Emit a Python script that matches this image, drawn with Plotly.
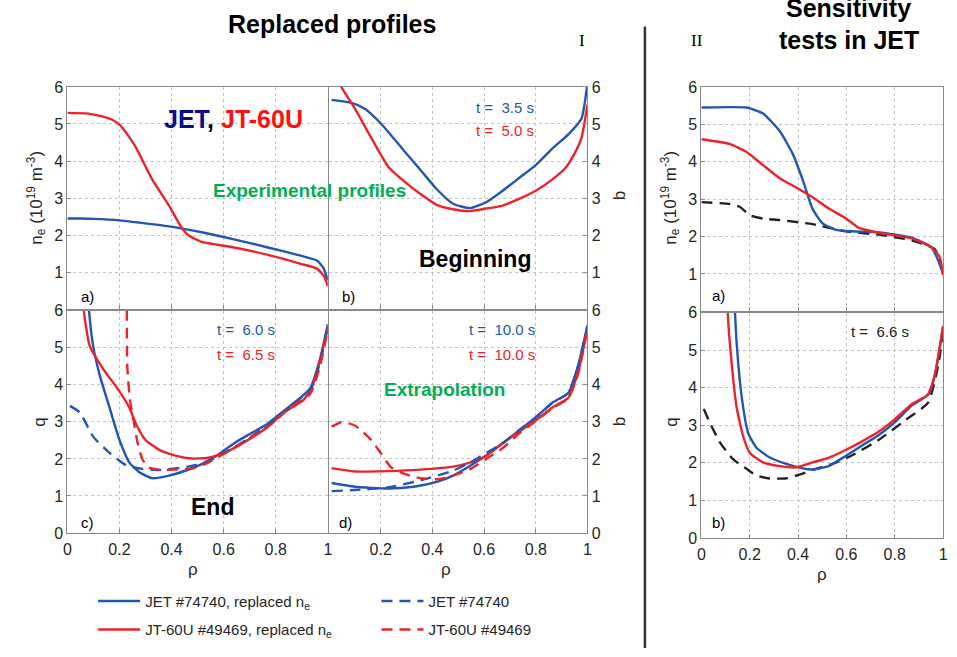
import plotly.graph_objects as go

# ---------------- data ----------------
# Panel a) density profiles (experimental)
a_jet_rho = [0, 0.05, 0.1, 0.2, 0.263, 0.39, 0.516, 0.64, 0.77, 0.895, 0.958, 0.983, 1.0]
a_jet_ne = [2.45, 2.45, 2.44, 2.40, 2.35, 2.24, 2.08, 1.89, 1.67, 1.45, 1.32, 1.12, 0.78]
a_jt_rho = [0, 0.08, 0.137, 0.17, 0.2, 0.23, 0.263, 0.326, 0.39, 0.44, 0.465, 0.516, 0.64, 0.77, 0.895, 0.958, 0.985, 1.0]
a_jt_ne = [5.30, 5.28, 5.20, 5.12, 4.98, 4.72, 4.37, 3.50, 2.80, 2.19, 2.00, 1.82, 1.67, 1.47, 1.23, 1.10, 0.90, 0.63]

# Panel b) q profiles, beginning
b_jet_rho = [0.01, 0.087, 0.137, 0.2, 0.29, 0.354, 0.417, 0.48, 0.545, 0.608, 0.672, 0.735, 0.8, 0.863, 0.926, 0.977, 1.0]
b_jet_q = [5.65, 5.57, 5.42, 5.02, 4.28, 3.76, 3.24, 2.85, 2.73, 2.89, 3.20, 3.54, 3.89, 4.33, 4.72, 5.15, 6.10]
b_jt_rho = [0.03, 0.048, 0.1, 0.163, 0.229, 0.29, 0.354, 0.417, 0.48, 0.545, 0.608, 0.672, 0.735, 0.8, 0.863, 0.913, 0.95, 0.977, 1.0]
b_jt_q = [6.40, 6.00, 5.42, 4.63, 3.85, 3.46, 3.11, 2.82, 2.70, 2.65, 2.72, 2.80, 2.98, 3.20, 3.50, 3.80, 4.20, 4.63, 5.52]

# Panel c) q profiles, end
c_jet_rho = [0.075, 0.083, 0.099, 0.124, 0.162, 0.2, 0.238, 0.276, 0.326, 0.39, 0.453, 0.516, 0.58, 0.642, 0.705, 0.769, 0.832, 0.895, 0.932, 0.97, 1.0]
c_jet_q = [7.0, 6.0, 5.04, 4.26, 3.38, 2.51, 1.90, 1.64, 1.48, 1.55, 1.68, 1.86, 2.12, 2.43, 2.69, 2.95, 3.30, 3.65, 3.90, 4.69, 5.63]
c_jt_rho = [0.055, 0.063, 0.086, 0.137, 0.2, 0.238, 0.263, 0.3, 0.351, 0.415, 0.478, 0.541, 0.617, 0.705, 0.769, 0.832, 0.908, 0.945, 1.0]
c_jt_q = [7.0, 6.0, 5.04, 4.43, 3.82, 3.38, 2.95, 2.51, 2.25, 2.09, 2.01, 2.03, 2.21, 2.56, 2.86, 3.25, 3.60, 4.04, 5.52]
c_jet_exp_rho = [0.01, 0.048, 0.099, 0.162, 0.225, 0.288, 0.351, 0.415, 0.478, 0.541, 0.617, 0.705, 0.794, 0.857, 0.932, 0.97, 1.0]
c_jet_exp_q = [3.43, 3.25, 2.60, 2.16, 1.83, 1.73, 1.70, 1.74, 1.81, 1.94, 2.21, 2.60, 3.04, 3.43, 3.86, 4.60, 5.60]
c_jt_exp_rho = [0.228, 0.230, 0.24, 0.255, 0.27, 0.288, 0.313, 0.351, 0.415, 0.478, 0.541, 0.617, 0.705, 0.794, 0.857, 0.932, 0.97, 1.0]
c_jt_exp_q = [7.0, 4.5, 3.6, 3.0, 2.42, 1.99, 1.77, 1.71, 1.71, 1.74, 1.90, 2.20, 2.58, 3.00, 3.40, 3.75, 4.50, 5.50]

# Panel d) q profiles, extrapolation
d_jet_rho = [0.01, 0.1, 0.227, 0.328, 0.417, 0.48, 0.545, 0.608, 0.672, 0.735, 0.8, 0.863, 0.926, 0.964, 1.0]
d_jet_q = [1.35, 1.25, 1.20, 1.25, 1.38, 1.55, 1.81, 2.09, 2.42, 2.77, 3.12, 3.51, 3.78, 4.52, 5.60]
d_jt_rho = [0.01, 0.1, 0.227, 0.354, 0.48, 0.545, 0.608, 0.672, 0.735, 0.8, 0.863, 0.926, 0.964, 1.0]
d_jt_q = [1.75, 1.66, 1.67, 1.71, 1.79, 1.90, 2.08, 2.43, 2.73, 3.04, 3.38, 3.65, 4.34, 5.52]
d_jet_exp_rho = [0.01, 0.1, 0.227, 0.354, 0.48, 0.545, 0.608, 0.672, 0.735, 0.8, 0.863, 0.926, 0.964, 1.0]
d_jet_exp_q = [1.13, 1.16, 1.23, 1.42, 1.68, 1.90, 2.16, 2.42, 2.77, 3.12, 3.50, 3.78, 4.50, 5.58]
d_jt_exp_rho = [0.01, 0.048, 0.1, 0.163, 0.2, 0.24, 0.29, 0.354, 0.417, 0.48, 0.545, 0.608, 0.672, 0.735, 0.8, 0.863, 0.926, 0.964, 1.0]
d_jt_exp_q = [2.87, 2.99, 2.90, 2.51, 2.16, 1.77, 1.60, 1.48, 1.45, 1.55, 1.72, 2.00, 2.29, 2.68, 3.02, 3.36, 3.63, 4.30, 5.50]

# Part II a) sensitivity tests, density
s_a_blue_rho = [0, 0.119, 0.187, 0.255, 0.324, 0.378, 0.419, 0.46, 0.5, 0.556, 0.624, 0.734, 0.87, 0.952, 0.98, 1.0]
s_a_blue_ne = [5.45, 5.46, 5.45, 5.29, 4.82, 4.21, 3.52, 2.74, 2.36, 2.18, 2.14, 2.11, 1.97, 1.71, 1.36, 1.00]
s_a_red_rho = [0, 0.119, 0.187, 0.255, 0.324, 0.392, 0.46, 0.529, 0.597, 0.652, 0.734, 0.87, 0.952, 0.986, 1.0]
s_a_red_ne = [4.60, 4.47, 4.26, 3.91, 3.56, 3.31, 3.05, 2.74, 2.49, 2.23, 2.10, 1.95, 1.71, 1.45, 0.97]
s_a_exp_rho = [0, 0.119, 0.16, 0.2, 0.255, 0.324, 0.46, 0.597, 0.734, 0.87, 0.966, 1.0]
s_a_exp_ne = [2.92, 2.87, 2.79, 2.57, 2.48, 2.44, 2.33, 2.14, 2.05, 1.90, 1.66, 1.00]

# Part II b) sensitivity tests, q
s_b_blue_rho = [0.137, 0.139, 0.153, 0.173, 0.194, 0.228, 0.283, 0.351, 0.419, 0.46, 0.529, 0.597, 0.665, 0.734, 0.802, 0.87, 0.938, 0.966, 1.0]
s_b_blue_q = [7.0, 6.0, 4.60, 3.47, 2.78, 2.40, 2.14, 1.97, 1.85, 1.82, 1.92, 2.18, 2.46, 2.74, 3.09, 3.52, 3.82, 4.34, 5.63]
s_b_red_rho = [0.107, 0.109, 0.126, 0.146, 0.173, 0.2, 0.255, 0.324, 0.392, 0.46, 0.529, 0.597, 0.665, 0.734, 0.802, 0.87, 0.938, 0.966, 1.0]
s_b_red_q = [7.0, 6.0, 4.60, 3.47, 2.70, 2.27, 2.01, 1.91, 1.88, 2.01, 2.14, 2.34, 2.57, 2.83, 3.17, 3.56, 3.82, 4.34, 5.63]
s_b_exp_rho = [0.01, 0.037, 0.078, 0.132, 0.187, 0.228, 0.283, 0.351, 0.419, 0.474, 0.542, 0.624, 0.734, 0.843, 0.938, 0.98, 1.0]
s_b_exp_q = [3.43, 3.04, 2.53, 2.09, 1.84, 1.66, 1.58, 1.59, 1.71, 1.84, 1.97, 2.20, 2.61, 3.13, 3.60, 4.60, 5.50]

x_tickvals = [0, 0.2, 0.4, 0.6, 0.8, 1]
x_ticktext = ["0", "0.2", "0.4", "0.6", "0.8", "1"]
y_tickvals = [0, 1, 2, 3, 4, 5, 6]

legend_names = ["JET #74740, replaced n<sub>e</sub>", "JT-60U #49469, replaced n<sub>e</sub>",
                "JET #74740", "JT-60U #49469"]

# ---------------- styling ----------------
W, H = 957, 657
BLUE = '#2157b2'
RED = '#ec2329'
GREEN = '#00b050'
NAVY = '#0b0b8c'
TXT = '#262626'
FONT = 'Liberation Sans, Arial, sans-serif'
SERIF = 'Liberation Serif, Times New Roman, serif'
LW = 2.4
DASH = '11px,7px'
ALW = 1.2          # axis frame line width
HALF = ALW / 2


def px(xp):
    return xp / W


def py(yp):
    return 1 - yp / H


fig = go.Figure()


def add(x, y, ax, color, dash='solid', name=None, legend=None, group=None):
    fig.add_trace(go.Scatter(
        x=x, y=y, mode='lines',
        xaxis='x' + ax, yaxis='y' + ax,
        line=dict(color=color, width=LW, dash=dash, shape='spline', smoothing=0.5),
        name=name, showlegend=name is not None, legendgroup=group,
        legend=legend, hoverinfo='skip'))


# panel a (axis 1)
add(a_jet_rho, a_jet_ne, '', BLUE)
add(a_jt_rho, a_jt_ne, '', RED)
# panel b (axis 2)
add(b_jet_rho, b_jet_q, '2', BLUE)
add(b_jt_rho, b_jt_q, '2', RED)
# panel c (axis 3) - carries the legend entries
add(c_jet_rho, c_jet_q, '3', BLUE, name=legend_names[0], legend='legend', group='g1')
add(c_jt_rho, c_jt_q, '3', RED, name=legend_names[1], legend='legend', group='g2')
add(c_jet_exp_rho, c_jet_exp_q, '3', BLUE, DASH, name=legend_names[2], legend='legend2', group='g3')
add(c_jt_exp_rho, c_jt_exp_q, '3', RED, DASH, name=legend_names[3], legend='legend2', group='g4')
# panel d (axis 4)
add(d_jet_rho, d_jet_q, '4', BLUE)
add(d_jt_rho, d_jt_q, '4', RED)
add(d_jet_exp_rho, d_jet_exp_q, '4', BLUE, DASH)
add(d_jt_exp_rho, d_jt_exp_q, '4', RED, DASH)
# part II a (axis 5)
add(s_a_exp_rho, s_a_exp_ne, '5', '#222222', DASH)
add(s_a_blue_rho, s_a_blue_ne, '5', BLUE)
add(s_a_red_rho, s_a_red_ne, '5', RED)
# part II b (axis 6)
add(s_b_exp_rho, s_b_exp_q, '6', '#222222', DASH)
add(s_b_blue_rho, s_b_blue_q, '6', BLUE)
add(s_b_red_rho, s_b_red_q, '6', RED)

tickfont = dict(family=FONT, size=16, color=TXT)
FRAME = '#8a8a8a'


def xaxis(dom, anchor, labels=True, tv=None):
    tv = tv if tv is not None else x_tickvals
    return dict(domain=dom, anchor=anchor, range=[0, 1], showgrid=True,
                gridcolor='#c4c4c4', griddash='dot', gridwidth=1,
                showline=True, linecolor=FRAME, linewidth=ALW, mirror=True,
                ticks='inside', ticklen=4, tickcolor=FRAME, zeroline=False,
                tickvals=tv, ticktext=[x_ticktext[x_tickvals.index(v)] for v in tv],
                showticklabels=labels, tickfont=tickfont, fixedrange=True,
                ticklabelstandoff=2)


def yaxis(dom, anchor, tv, side='left', labels=True):
    return dict(domain=dom, anchor=anchor, range=[0, 6], side=side, showgrid=True,
                gridcolor='#c4c4c4', griddash='dot', gridwidth=1,
                showline=True, linecolor=FRAME, linewidth=ALW, mirror=True,
                ticks='inside', ticklen=4, tickcolor=FRAME, zeroline=False,
                tickvals=tv, ticktext=[str(v) for v in tv],
                showticklabels=labels, tickfont=tickfont, fixedrange=True)


xl = [px(64), px(327.5 - HALF)]
xm = [px(327.5 + HALF), px(589)]
xr = [px(704), px(948)]
yt = [py(310 - HALF), py(81)]
yb = [py(539), py(310 + HALF)]
yrt = [py(312 - HALF), py(81)]
yrb = [py(544), py(312 + HALF)]

legend_font = dict(family=FONT, size=15, color=TXT)

fig.update_layout(
    width=W, height=H, margin=dict(l=0, r=0, t=0, b=0),
    paper_bgcolor='white', plot_bgcolor='white',
    font=dict(family=FONT, color=TXT),
    xaxis=xaxis(xl, 'y', labels=False),
    yaxis=yaxis(yt, 'x', [1, 2, 3, 4, 5, 6]),
    xaxis2=xaxis(xm, 'y2', labels=False),
    yaxis2=yaxis(yt, 'x2', [1, 2, 3, 4, 5, 6], side='right'),
    xaxis3=xaxis(xl, 'y3'),
    yaxis3=yaxis(yb, 'x3', y_tickvals),
    xaxis4=xaxis(xm, 'y4', tv=[0.2, 0.4, 0.6, 0.8, 1]),
    yaxis4=yaxis(yb, 'x4', y_tickvals, side='right'),
    xaxis5=xaxis(xr, 'y5', labels=False),
    yaxis5=yaxis(yrt, 'x5', [1, 2, 3, 4, 5, 6]),
    xaxis6=xaxis(xr, 'y6'),
    yaxis6=yaxis(yrb, 'x6', y_tickvals),
    legend=dict(x=px(90), y=py(592), xanchor='left', yanchor='top',
                font=legend_font, bgcolor='rgba(0,0,0,0)',
                traceorder='grouped', tracegroupgap=6, itemwidth=42),
    legend2=dict(x=px(376), y=py(592), xanchor='left', yanchor='top',
                 font=legend_font, bgcolor='rgba(0,0,0,0)',
                 traceorder='grouped', tracegroupgap=6, itemwidth=42),
    showlegend=True,
)

annots = []


def ann(text, x, y, size=15, color=TXT, family=FONT, angle=0, xanchor='center'):
    annots.append(dict(text=text, x=px(x), y=py(y), xref='paper', yref='paper',
                       showarrow=False, xanchor=xanchor, yanchor='middle',
                       textangle=angle, font=dict(family=family, size=size, color=color)))


# headings
ann('<b>Replaced profiles</b>', 331, 16, size=25, color='#000')
ann('I', 583, 33, size=17, family=SERIF, color='#000')
ann('II', 700, 33, size=17, family=SERIF, color='#000')
ann('<b>Sensitivity</b>', 853, 0, size=25, color='#000')
ann('<b>tests in JET</b>', 853, 33, size=25, color='#000')

# axis titles
ne_title = 'n<sub>e</sub> (10<sup>19</sup> m<sup>-3</sup>)'
ann(ne_title, 33, 195, size=17, angle=-90)
ann('q', 35, 425, size=17, angle=-90)
ann(ne_title, 673, 195, size=17, angle=-90)
ann('q', 673, 425, size=17, angle=-90)
ann('b', 621, 193, size=17, angle=-90)
ann('b', 621, 425, size=17, angle=-90)
ann('ρ', 191, 576, size=17)
ann('ρ', 446, 576, size=17)
ann('ρ', 826, 582, size=17)

# panel a
ann('<b><span style="color:%s">JET</span>, <span style="color:#ff1010">JT-60U</span></b>' % NAVY,
    232, 114, size=25, color='#000')
ann('<b>Experimental profiles</b>', 308, 187, size=19, color=GREEN)
ann('a)', 84, 296, size=15, color='#000')
# panel b
ann('t =  3.5 s', 506, 102, size=15, color=BLUE)
ann('t =  5.0 s', 506, 126, size=15, color=RED)
ann('<b>Beginning</b>', 475, 258, size=23, color='#000')
ann('b)', 348, 296, size=15, color='#000')
# panel c
ann('t =  6.0 s', 244, 330, size=15, color=BLUE)
ann('t =  6.5 s', 244, 356, size=15, color=RED)
ann('<b>End</b>', 210, 512, size=23, color='#000')
ann('c)', 84, 528, size=15, color='#000')
# panel d
ann('t =  10.0 s', 503, 330, size=15, color=BLUE)
ann('t =  10.0 s', 503, 356, size=15, color=RED)
ann('<b>Extrapolation</b>', 445, 392, size=19, color=GREEN)
ann('d)', 345, 528, size=15, color='#000')
# part II
ann('a)', 721, 295, size=15, color='#000')
ann('b)', 721, 528, size=15, color='#000')
ann('t =  6.6 s', 884, 332, size=15, color='#222')

fig.update_layout(annotations=annots)

# divider between parts I and II
fig.add_shape(type='line', xref='paper', yref='paper', x0=px(647), x1=px(647),
              y0=py(19), y1=0, line=dict(color='#333333', width=2.5))

fig.write_html('out.html')
